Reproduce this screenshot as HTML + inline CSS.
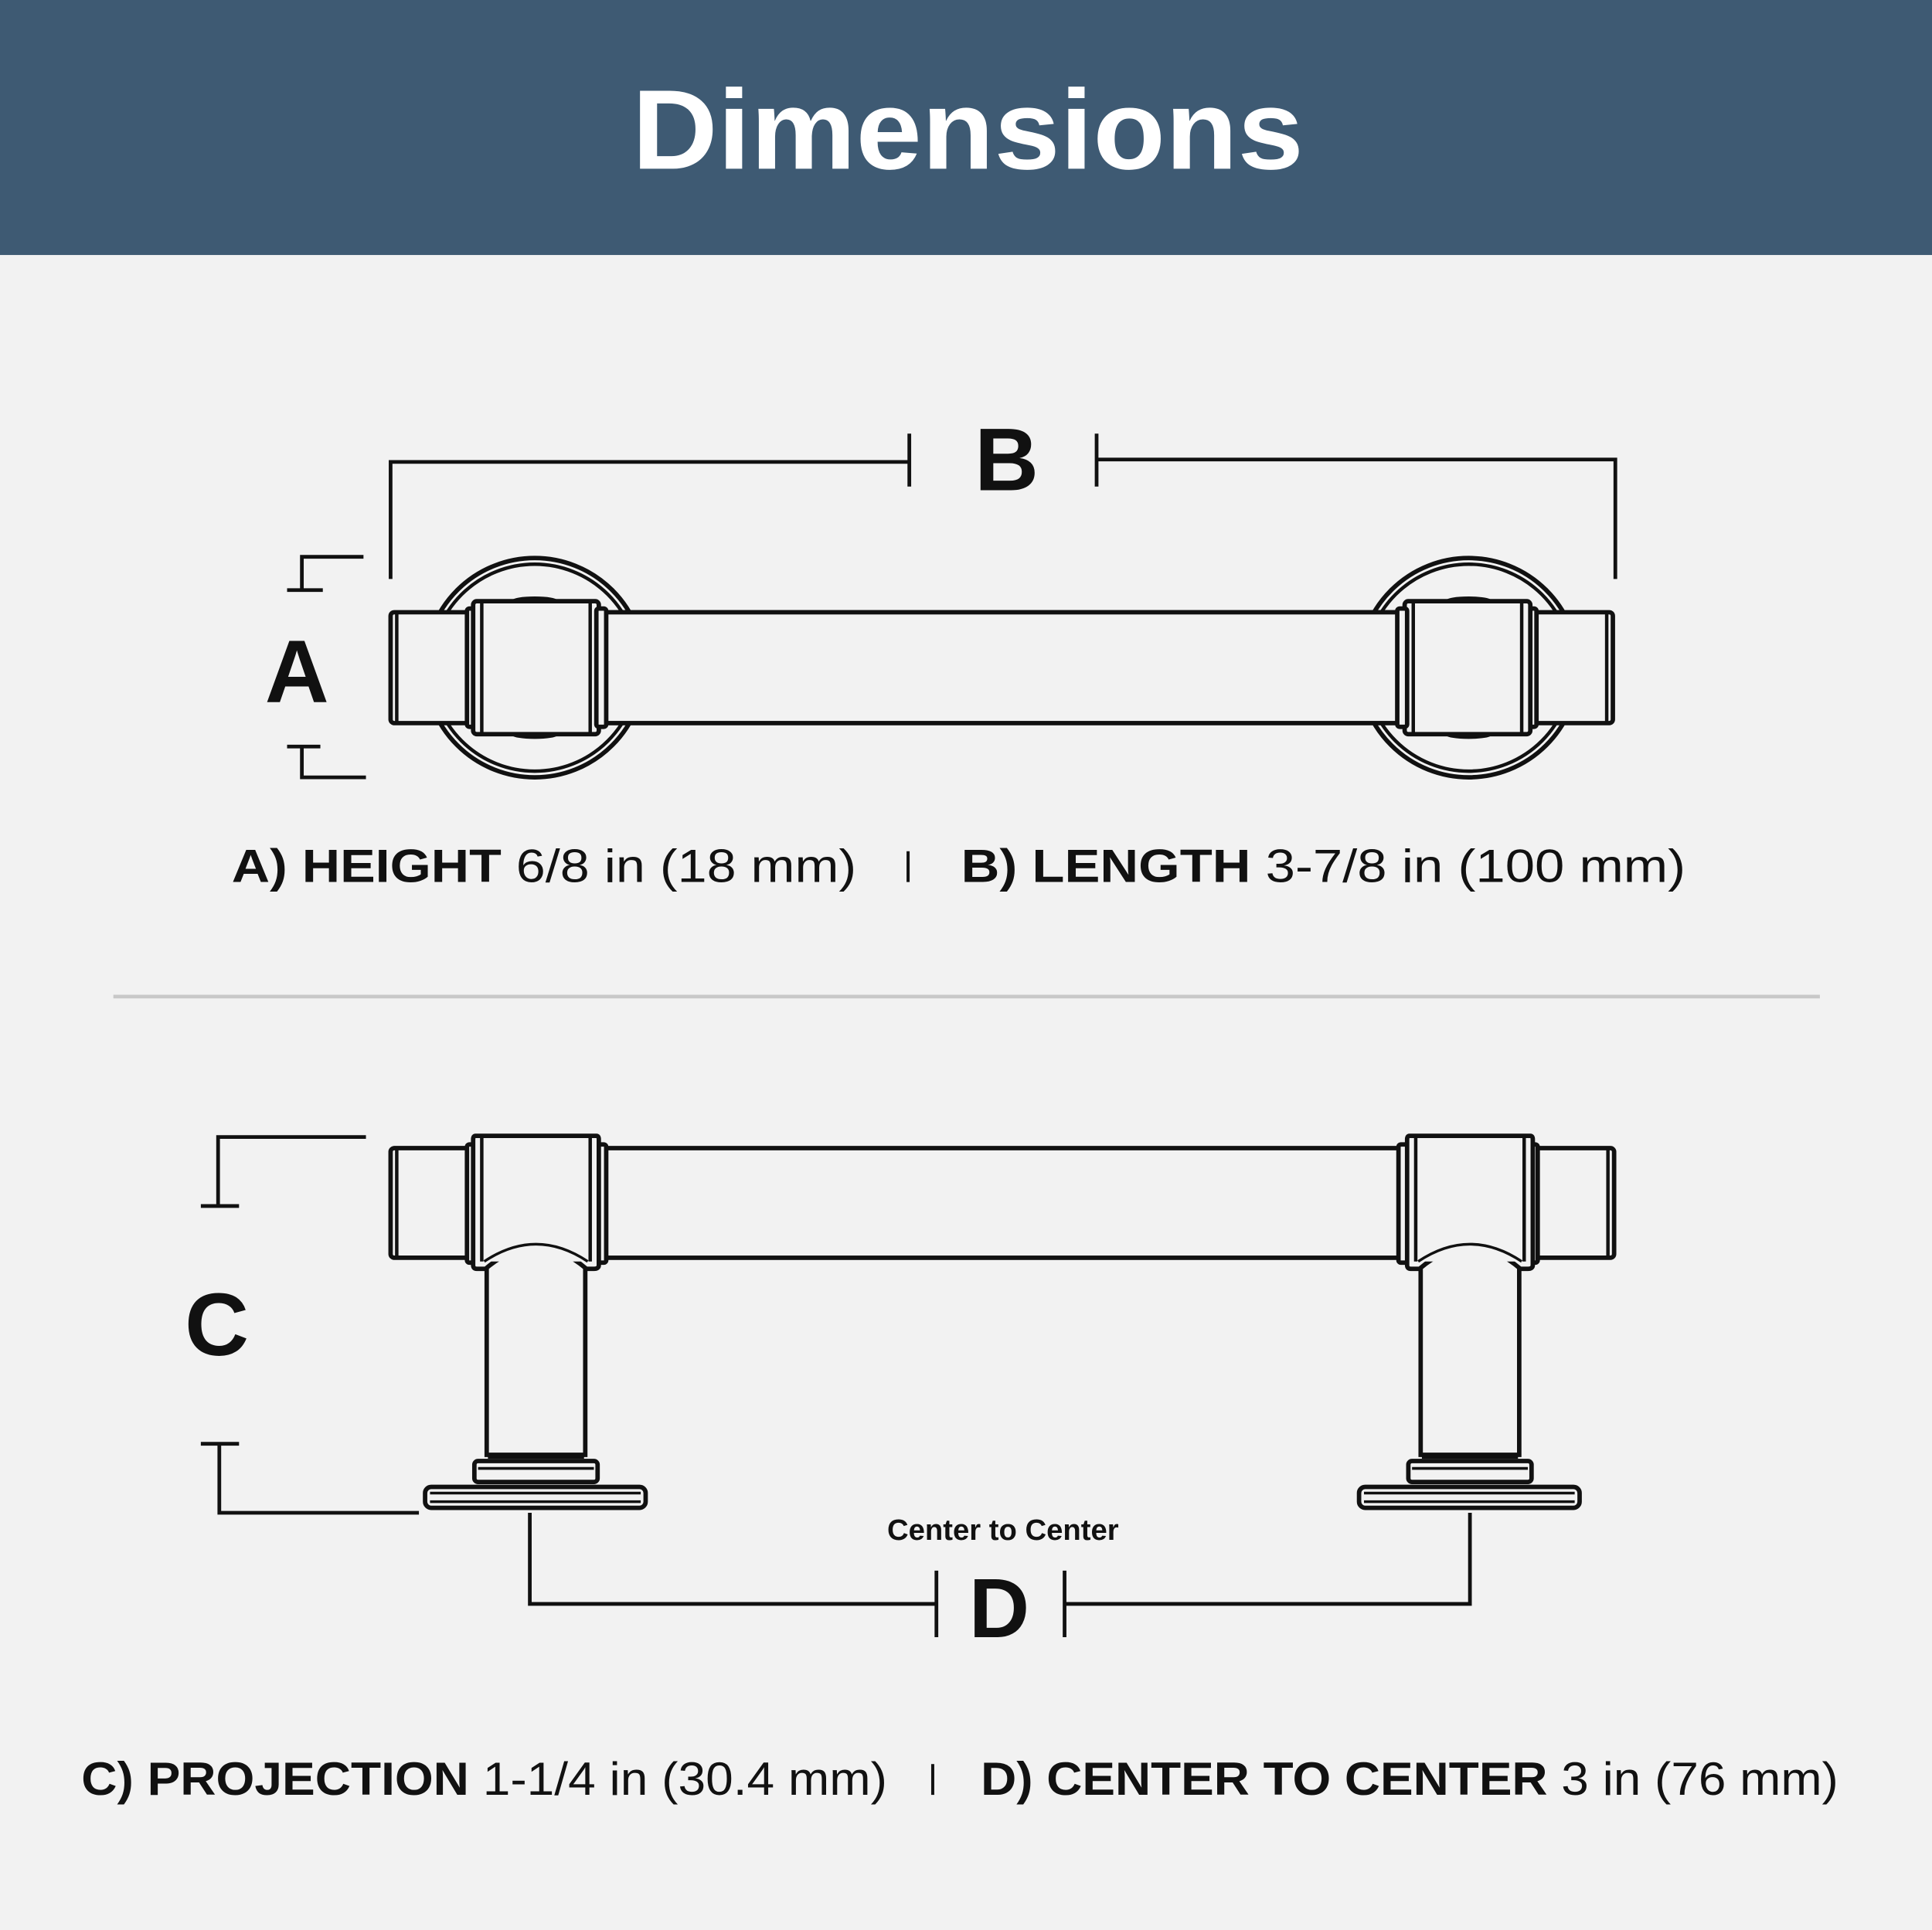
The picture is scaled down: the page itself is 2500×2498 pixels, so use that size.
<!DOCTYPE html>
<html><head><meta charset="utf-8"><style>
html,body{margin:0;padding:0;background:#f2f2f2}
svg{display:block}
text{font-family:"Liberation Sans",sans-serif;fill:#111}
</style></head><body>
<svg width="2500" height="2498" viewBox="0 0 1568 1566.7" preserveAspectRatio="none" xmlns="http://www.w3.org/2000/svg">
<rect x="0" y="0" width="1568" height="1567" fill="#f2f2f2"/>
<rect x="0" y="0" width="1568" height="207" fill="#3e5a73"/>
<text x="513" y="137" font-size="92" font-weight="bold" textLength="545" lengthAdjust="spacingAndGlyphs" style="fill:#fff">Dimensions</text>

<g fill="none" stroke="#111" stroke-width="3">
<polyline points="317,470 317,375 738,375"/>
<line x1="738" y1="352" x2="738" y2="395"/>
<line x1="890" y1="352" x2="890" y2="395"/>
<polyline points="890,373 1311,373 1311,470"/>
<polyline points="295,452 245,452 245,479"/>
<line x1="233" y1="479" x2="262" y2="479"/>
<line x1="233" y1="606" x2="260" y2="606"/>
<polyline points="245,606 245,631 297,631"/>
</g>
<text x="817" y="398" text-anchor="middle" font-size="72" font-weight="bold">B</text>
<text x="241" y="570" text-anchor="middle" font-size="72" font-weight="bold">A</text>

<g fill="#f2f2f2" stroke="#111" stroke-width="3.6">
<circle cx="434" cy="542" r="89"/>
<circle cx="434" cy="542" r="84" stroke-width="2.8"/>
<g transform="translate(758,0)"><circle cx="434" cy="542" r="89"/><circle cx="434" cy="542" r="84" stroke-width="2.8"/></g>
<rect x="488" y="497" width="652" height="90"/>
<g id="tl">
<rect x="317" y="497" width="66" height="90" rx="3"/>
<line x1="322" y1="498" x2="322" y2="586" stroke-width="2.8"/>
<rect x="379" y="494" width="10" height="96" rx="2"/>
<ellipse cx="434" cy="489" rx="18" ry="3" fill="#111"/>
<ellipse cx="434" cy="595" rx="18" ry="3" fill="#111"/>
<rect x="384" y="488" width="102" height="108" rx="3"/>
<line x1="391" y1="489" x2="391" y2="595" stroke-width="2.8"/>
<line x1="479" y1="489" x2="479" y2="595" stroke-width="2.8"/>
<rect x="484" y="494" width="8" height="96" rx="2"/>
</g>
<g transform="translate(1626,0) scale(-1,1)">
<rect x="317" y="497" width="66" height="90" rx="3"/>
<line x1="322" y1="498" x2="322" y2="586" stroke-width="2.8"/>
<rect x="379" y="494" width="10" height="96" rx="2"/>
<ellipse cx="434" cy="489" rx="18" ry="3" fill="#111"/>
<ellipse cx="434" cy="595" rx="18" ry="3" fill="#111"/>
<rect x="384" y="488" width="102" height="108" rx="3"/>
<line x1="391" y1="489" x2="391" y2="595" stroke-width="2.8"/>
<line x1="479" y1="489" x2="479" y2="595" stroke-width="2.8"/>
<rect x="484" y="494" width="8" height="96" rx="2"/>
</g>
</g>

<text x="188" y="716" font-size="38" textLength="507" lengthAdjust="spacingAndGlyphs"><tspan font-weight="bold">A) HEIGHT</tspan> 6/8 in (18 mm)</text>
<line x1="737" y1="691" x2="737" y2="716" stroke="#111" stroke-width="2.5"/>
<text x="780" y="716" font-size="38" textLength="588" lengthAdjust="spacingAndGlyphs"><tspan font-weight="bold">B) LENGTH</tspan> 3-7/8 in (100 mm)</text>

<line x1="92" y1="809" x2="1477" y2="809" stroke="#c8c8c8" stroke-width="3"/>

<g fill="none" stroke="#111" stroke-width="3">
<polyline points="297,923 177,923 177,979"/>
<line x1="163" y1="979" x2="194" y2="979"/>
<line x1="163" y1="1172" x2="194" y2="1172"/>
<polyline points="178,1172 178,1228 340,1228"/>
<polyline points="430,1228 430,1302 760,1302"/>
<line x1="760" y1="1275" x2="760" y2="1329"/>
<line x1="864" y1="1275" x2="864" y2="1329"/>
<polyline points="864,1302 1193,1302 1193,1228"/>
</g>
<text x="176" y="1100" text-anchor="middle" font-size="72" font-weight="bold">C</text>
<text x="811" y="1329" text-anchor="middle" font-size="68" font-weight="bold">D</text>
<text x="814" y="1250" text-anchor="middle" font-size="24" font-weight="bold">Center to Center</text>

<g fill="#f2f2f2" stroke="#111" stroke-width="3.6">
<rect x="488" y="932" width="652" height="89"/>
<g id="sl">
<rect x="317" y="932" width="66" height="89" rx="3"/>
<line x1="322" y1="933" x2="322" y2="1020" stroke-width="2.8"/>
<rect x="379" y="929" width="10" height="96" rx="2"/>
<rect x="484" y="929" width="8" height="96" rx="2"/>
</g>
<g transform="translate(1627,0) scale(-1,1)">
<rect x="317" y="932" width="66" height="89" rx="3"/>
<line x1="322" y1="933" x2="322" y2="1020" stroke-width="2.8"/>
<rect x="379" y="929" width="10" height="96" rx="2"/>
<rect x="484" y="929" width="8" height="96" rx="2"/>
</g>
<g id="post">
<path d="M395,1030 L395,1181 L475,1181 L475,1030" />
<path d="M386,922 L484,922 Q486,922 486,925 L486,1027 Q486,1030 482,1030 L476,1030 Q435,995 394,1030 L387,1030 Q384,1030 384,1027 L384,925 Q384,922 386,922 Z"/>
<path d="M393,1024 Q435,996 477,1024" stroke-width="2.2"/>
<line x1="391" y1="923" x2="391" y2="1024" stroke-width="2.8"/>
<line x1="479" y1="923" x2="479" y2="1024" stroke-width="2.8"/>
<rect x="385" y="1186" width="100" height="17" rx="3"/>
<line x1="388" y1="1192" x2="482" y2="1192" stroke-width="2.2"/>
<line x1="396" y1="1183" x2="474" y2="1183" stroke-width="2.2"/>
<rect x="345" y="1207" width="179" height="17" rx="5"/>
<line x1="349" y1="1212" x2="520" y2="1212" stroke-width="2.2"/>
<line x1="349" y1="1219" x2="520" y2="1219" stroke-width="2.2"/>
</g>
<g transform="translate(758,0)">
<path d="M395,1030 L395,1181 L475,1181 L475,1030" />
<path d="M386,922 L484,922 Q486,922 486,925 L486,1027 Q486,1030 482,1030 L476,1030 Q435,995 394,1030 L387,1030 Q384,1030 384,1027 L384,925 Q384,922 386,922 Z"/>
<path d="M393,1024 Q435,996 477,1024" stroke-width="2.2"/>
<line x1="391" y1="923" x2="391" y2="1024" stroke-width="2.8"/>
<line x1="479" y1="923" x2="479" y2="1024" stroke-width="2.8"/>
<rect x="385" y="1186" width="100" height="17" rx="3"/>
<line x1="388" y1="1192" x2="482" y2="1192" stroke-width="2.2"/>
<line x1="396" y1="1183" x2="474" y2="1183" stroke-width="2.2"/>
<rect x="345" y="1207" width="179" height="17" rx="5"/>
<line x1="349" y1="1212" x2="520" y2="1212" stroke-width="2.2"/>
<line x1="349" y1="1219" x2="520" y2="1219" stroke-width="2.2"/>
</g>
</g>

<text x="66" y="1457" font-size="38" textLength="654" lengthAdjust="spacingAndGlyphs"><tspan font-weight="bold">C) PROJECTION</tspan> 1-1/4 in (30.4 mm)</text>
<line x1="757" y1="1432" x2="757" y2="1457" stroke="#111" stroke-width="2.5"/>
<text x="796" y="1457" font-size="38" textLength="696" lengthAdjust="spacingAndGlyphs"><tspan font-weight="bold">D) CENTER TO CENTER</tspan> 3 in (76 mm)</text>
</svg>
</body></html>
